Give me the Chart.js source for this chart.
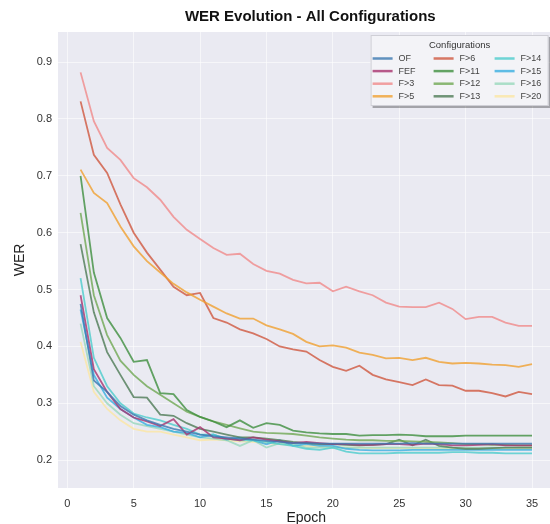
<!DOCTYPE html>
<html>
<head>
<meta charset="utf-8">
<script src="https://cdn.jsdelivr.net/npm/chart.js@4.4.0/dist/chart.umd.min.js"></script>
<style>
  html, body { margin: 0; padding: 0; background: #fff; overflow: hidden; }
</style>
</head>
<body>
<canvas id="werChart" width="556" height="524"></canvas>
<script>
/* ===================== DATOS ===================== */
const epocas = [1, 2, 3, 4, 5, 6, 7, 8, 9, 10, 11, 12, 13, 14, 15, 16, 17, 18, 19, 20,
  21, 22, 23, 24, 25, 26, 27, 28, 29, 30, 31, 32, 33, 34, 35];
const ticksX = [0, 5, 10, 15, 20, 25, 30, 35];
const ticksY = [0.2, 0.3, 0.4, 0.5, 0.6, 0.7, 0.8, 0.9];

const nombres = ["OF", "FEF", "F>3", "F>5", "F>6", "F>11", "F>12", "F>13", "F>14", "F>15", "F>16", "F>20"];

const werOF = [0.475, 0.34, 0.32, 0.295, 0.28, 0.27, 0.262, 0.255, 0.25, 0.245, 0.242, 0.24, 0.238, 0.236, 0.234, 0.232, 0.23, 0.23, 0.229, 0.229, 0.229, 0.229, 0.229, 0.229, 0.229, 0.23, 0.229, 0.229, 0.229, 0.229, 0.229, 0.229, 0.229, 0.229, 0.229];
const werFEF = [0.49, 0.36, 0.32, 0.29, 0.275, 0.268, 0.26, 0.272, 0.245, 0.258, 0.24, 0.238, 0.235, 0.24, 0.236, 0.233, 0.23, 0.232, 0.23, 0.228, 0.228, 0.227, 0.227, 0.228, 0.228, 0.227, 0.229, 0.228, 0.226, 0.226, 0.227, 0.228, 0.226, 0.226, 0.226];
const werF3 = [0.882, 0.796, 0.749, 0.728, 0.696, 0.68, 0.658, 0.628, 0.605, 0.589, 0.573, 0.561, 0.563, 0.545, 0.533, 0.528, 0.517, 0.511, 0.512, 0.497, 0.505, 0.497, 0.49, 0.477, 0.47, 0.469, 0.469, 0.477, 0.466, 0.448, 0.452, 0.452, 0.442, 0.436, 0.436];
const werF5 = [0.711, 0.67, 0.652, 0.611, 0.576, 0.55, 0.53, 0.51, 0.495, 0.482, 0.47, 0.458, 0.449, 0.449, 0.437, 0.43, 0.422, 0.408, 0.4, 0.402, 0.398, 0.389, 0.385, 0.379, 0.38, 0.376, 0.38, 0.373, 0.37, 0.371, 0.37, 0.368, 0.367, 0.364, 0.369];
const werF6 = [0.831, 0.737, 0.705, 0.65, 0.6, 0.565, 0.535, 0.505, 0.49, 0.494, 0.45, 0.442, 0.43, 0.423, 0.413, 0.4, 0.395, 0.391, 0.376, 0.364, 0.357, 0.366, 0.35, 0.342, 0.337, 0.332, 0.342, 0.332, 0.331, 0.322, 0.322, 0.318, 0.312, 0.32, 0.316];
const werF11 = [0.7, 0.53, 0.45, 0.415, 0.373, 0.376, 0.318, 0.316, 0.288, 0.276, 0.268, 0.258, 0.27, 0.257, 0.265, 0.262, 0.252, 0.249, 0.247, 0.246, 0.246, 0.243, 0.244, 0.244, 0.245, 0.244, 0.242, 0.242, 0.242, 0.243, 0.243, 0.243, 0.243, 0.243, 0.243];
const werF12 = [0.635, 0.49, 0.42, 0.375, 0.35, 0.33, 0.315, 0.3, 0.285, 0.276, 0.268, 0.262, 0.256, 0.25, 0.248, 0.247, 0.246, 0.243, 0.24, 0.238, 0.236, 0.235, 0.235, 0.234, 0.234, 0.233, 0.232, 0.231, 0.23, 0.228, 0.228, 0.227, 0.227, 0.226, 0.226];
const werF13 = [0.58, 0.46, 0.39, 0.35, 0.311, 0.31, 0.28, 0.278, 0.265, 0.255, 0.25, 0.245, 0.24, 0.24, 0.238, 0.235, 0.232, 0.23, 0.228, 0.228, 0.227, 0.226, 0.227, 0.228, 0.236, 0.226, 0.236, 0.225, 0.222, 0.22, 0.22, 0.221, 0.222, 0.222, 0.222];
const werF14 = [0.52, 0.38, 0.33, 0.3, 0.282, 0.275, 0.27, 0.262, 0.255, 0.245, 0.245, 0.238, 0.235, 0.235, 0.232, 0.228, 0.225, 0.22, 0.218, 0.222, 0.215, 0.212, 0.212, 0.212, 0.213, 0.213, 0.213, 0.213, 0.214, 0.214, 0.213, 0.213, 0.212, 0.212, 0.212];
const werF15 = [0.465, 0.35, 0.31, 0.29, 0.275, 0.262, 0.258, 0.25, 0.248, 0.24, 0.245, 0.236, 0.24, 0.235, 0.228, 0.235, 0.225, 0.228, 0.225, 0.225, 0.22, 0.218, 0.217, 0.217, 0.217, 0.218, 0.218, 0.218, 0.218, 0.218, 0.218, 0.218, 0.218, 0.218, 0.218];
const werF16 = [0.44, 0.33, 0.3, 0.28, 0.265, 0.26, 0.255, 0.25, 0.245, 0.24, 0.238, 0.235, 0.225, 0.235, 0.222, 0.23, 0.228, 0.222, 0.222, 0.222, 0.222, 0.222, 0.222, 0.222, 0.222, 0.222, 0.222, 0.222, 0.222, 0.222, 0.222, 0.222, 0.222, 0.222, 0.222];
const werF20 = [0.408, 0.32, 0.29, 0.27, 0.255, 0.25, 0.25, 0.245, 0.24, 0.235, 0.236, 0.235, 0.233, 0.232, 0.23, 0.228, 0.226, 0.225, 0.224, 0.223, 0.222, 0.222, 0.221, 0.221, 0.221, 0.221, 0.221, 0.22, 0.22, 0.22, 0.22, 0.22, 0.22, 0.22, 0.22];

const series = [werOF, werFEF, werF3, werF5, werF6, werF11, werF12, werF13, werF14, werF15, werF16, werF20];
const colores = ["#3b78b0", "#a8326e", "#f08a8a", "#f0a030", "#d0583e", "#3f8f3f",
  "#6fa852", "#4d7a55", "#4ccccc", "#38aee0", "#98d8bc", "#fbe6a2"];

const fuente = "'Liberation Sans', Arial, sans-serif";

/* ===================== PLUGIN: FONDO, TITULOS Y LEYENDA ===================== */
const decoracion = {
  id: "decoracion",
  beforeDraw(chart) {
    const { ctx, chartArea: a } = chart;
    ctx.save();
    ctx.fillStyle = "#eaeaf2";
    ctx.fillRect(a.left, a.top, a.right - a.left, a.bottom - a.top);
    ctx.restore();
  },
  afterDraw(chart) {
    const { ctx, chartArea: a } = chart;
    ctx.save();
    ctx.fillStyle = "#111";
    ctx.textAlign = "center";
    ctx.textBaseline = "middle";
    ctx.font = "bold 15px " + fuente;
    ctx.fillText("WER Evolution - All Configurations", (a.left + a.right) / 2 + 4, 17);

    ctx.font = "14px " + fuente;
    ctx.fillStyle = "#222";
    ctx.fillText("Epoch", (a.left + a.right) / 2, 518);
    ctx.save();
    ctx.translate(20, (a.top + a.bottom) / 2);
    ctx.rotate(-Math.PI / 2);
    ctx.fillText("WER", 0, 0);
    ctx.restore();

    // leyenda en 3 columnas, orden por columnas
    const x0 = a.right - 184, y0 = a.top + 3, w = 178, h = 71;
    ctx.fillStyle = "rgba(0,0,0,0.3)";
    ctx.fillRect(x0 + 2, y0 + 2, w, h);
    ctx.fillStyle = "#f3f3f7";
    ctx.fillRect(x0, y0, w, h);
    ctx.strokeStyle = "#cfcfd6";
    ctx.lineWidth = 1;
    ctx.strokeRect(x0 + 0.5, y0 + 0.5, w - 1, h - 1);

    ctx.fillStyle = "#333";
    ctx.font = "9.5px " + fuente;
    ctx.fillText("Configurations", x0 + w / 2, y0 + 10);

    ctx.textAlign = "left";
    ctx.font = "9px " + fuente;
    chart.data.datasets.forEach((ds, i) => {
      const col = Math.floor(i / 4), row = i % 4;
      const lx = x0 + 2 + col * 61, ly = y0 + 23.5 + row * 12.6;
      ctx.strokeStyle = ds.borderColor;
      ctx.lineWidth = 2.5;
      ctx.beginPath();
      ctx.moveTo(lx, ly);
      ctx.lineTo(lx + 20, ly);
      ctx.stroke();
      ctx.fillStyle = "#444";
      ctx.fillText(ds.label, lx + 26, ly);
    });
    ctx.restore();
  },
};

/* ===================== GRAFICO ===================== */
new Chart(document.getElementById("werChart"), {
  type: "line",
  data: {
    labels: epocas,
    datasets: series.map((valores, i) => ({
      label: nombres[i],
      data: valores,
      borderColor: colores[i] + "cc",
      backgroundColor: colores[i],
      borderWidth: 1.8,
      pointRadius: 0,
      tension: 0,
      fill: false,
    })),
  },
  plugins: [decoracion],
  options: {
    responsive: false,
    animation: false,
    devicePixelRatio: 1,
    layout: { padding: { top: 32, left: 0, right: 1.4, bottom: 0 } },
    plugins: {
      legend: { display: false },
      title: { display: false },
      tooltip: { enabled: false },
    },
    scales: {
      x: {
        type: "linear",
        min: -0.7,
        max: 36.7,
        afterFit: (s) => { s.height = 36; },
        afterBuildTicks: (s) => { s.ticks = ticksX.map((v) => ({ value: v })); },
        grid: { color: "rgba(255,255,255,0.55)", lineWidth: 1, drawTicks: false },
        border: { display: false },
        ticks: { color: "#333", font: { size: 11, family: fuente }, padding: 9 },
      },
      y: {
        min: 0.151,
        max: 0.953,
        afterFit: (s) => { s.width = 58; },
        afterBuildTicks: (s) => { s.ticks = ticksY.map((v) => ({ value: v })); },
        grid: { color: "rgba(255,255,255,0.55)", lineWidth: 1, drawTicks: false },
        border: { display: false },
        ticks: {
          color: "#333",
          font: { size: 11, family: fuente },
          padding: 6,
          callback: (v) => v.toFixed(1),
        },
      },
    },
  },
});
</script>
</body>
</html>
